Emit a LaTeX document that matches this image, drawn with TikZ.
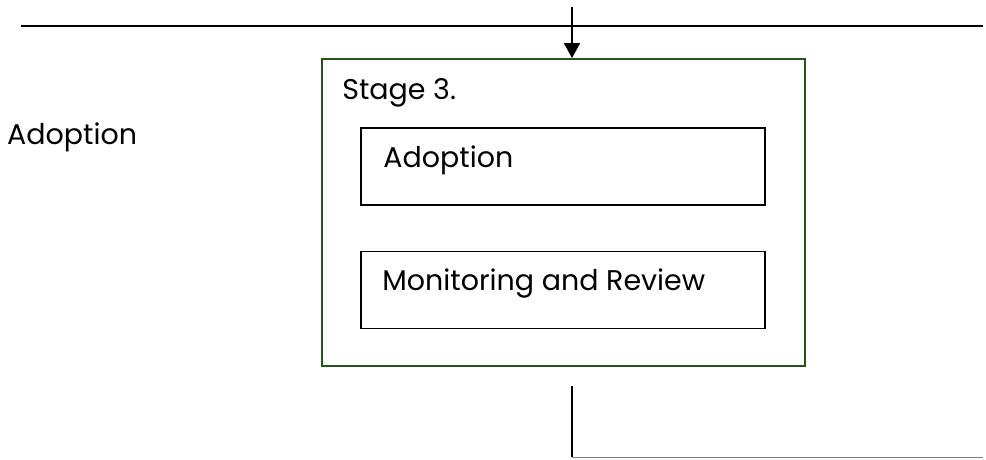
\documentclass[tikz,border=0pt]{standalone}
\usepackage{fontspec}
\setmainfont{Poppins}
\usetikzlibrary{arrows.meta,positioning}
\definecolor{stagegreen}{RGB}{38,82,30}

\begin{document}
\begin{tikzpicture}[
    x=1pt, y=-1pt,
    txt/.style={inner sep=0pt, font=\fontsize{28.5}{33}\selectfont},
    stagebox/.style={draw=stagegreen, line width=1.8pt, minimum width=483pt, minimum height=307pt, inner sep=0pt},
    subbox/.style={draw, line width=1.6pt, minimum width=404pt, minimum height=77pt, inner sep=0pt},
    arrow/.style={-{Triangle[length=15pt,width=16pt]}, line width=1.3pt}
  ]
    \useasboundingbox (0,0) rectangle (986,459);
    % frame lines
    \coordinate (tl) at (21,26);
    \coordinate (tr) at (983,26);
    \coordinate (atop) at (572,7);
    \draw[line width=1.6pt] (tl) -- (tr);
    % stage block
    \node[stagebox] (stage) at (563.5,212.5) {};
    \node[subbox] (adopt) at (563,166.5) {};
    \node[subbox] (monit) at (563,290) {};
    \node[txt, anchor=base west] (stagetxt) at ([xshift=21pt,yshift=-41pt]stage.north west) {Stage 3.};
    \node[txt, anchor=base west] (adopttxt) at ([xshift=23pt,yshift=-40pt]adopt.north west) {Adoption};
    \node[txt, anchor=base west] (monittxt) at ([xshift=22pt,yshift=-40pt]monit.north west) {Monitoring and Review};
    \node[txt, anchor=base west] (phase) at (7,144) {Adoption};
    \draw[arrow] (atop) -- (atop |- stage.north);
    % exit lines
    \coordinate (btop) at (572,386);
    \coordinate (bbot) at (572,457);
    \coordinate (bright) at (983,457);
    \draw[line width=1.8pt] (btop) -- (bbot);
    \draw[gray, line width=1pt] (bbot) -- (bright);
  \end{tikzpicture}
\end{document}
